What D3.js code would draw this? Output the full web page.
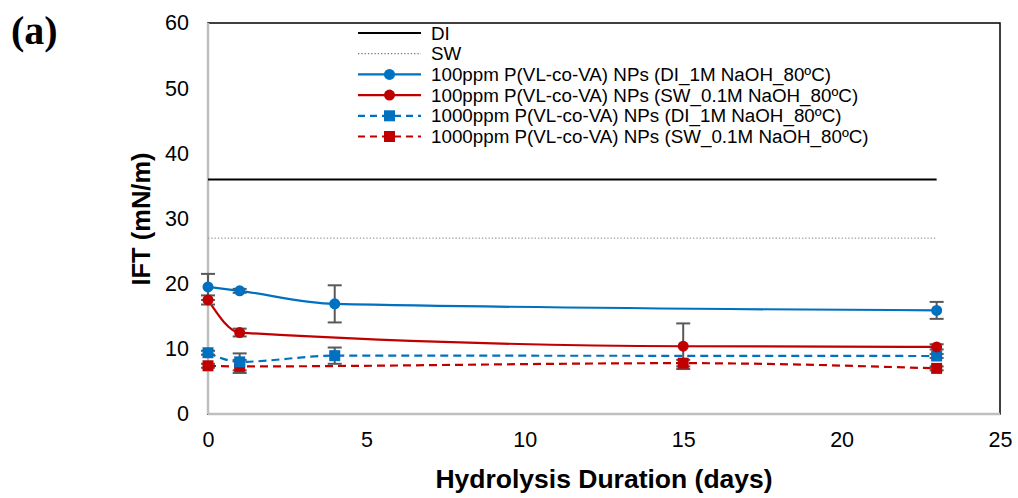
<!DOCTYPE html>
<html><head><meta charset="utf-8">
<script src="https://cdn.jsdelivr.net/npm/d3@7"></script>
<style>body{margin:0;background:#fff}svg{display:block}</style>
</head><body>
<svg id="c" width="1018" height="498"></svg>
<script>
const xTicks = [0,5,10,15,20,25];
const yTicks = [0,10,20,30,40,50,60];
const diLevel = 36;
const swLevel = 27;
const refX = [0, 23];
const blueCircX = [0,1,4,23];
const blueCircY = [19.5,18.9,16.9,15.9];
const blueCircE = [2.0,0.3,2.85,1.3];
const redCircX = [0,1,15,23];
const redCircY = [17.5,12.5,10.4,10.3];
const redCircE = [0.7,0.6,3.5,0.4];
const blueSqX = [0,1,4,23];
const blueSqY = [9.4,8.0,8.95,8.9];
const blueSqE = [0.3,1.3,1.25,0.3];
const redSqX = [0,1,15,23];
const redSqY = [7.4,7.3,7.8,7.0];
const redSqE = [0.3,1.0,0.5,0.3];
const legendLabels = ["DI","SW",
 "100ppm P(VL-co-VA) NPs (DI_1M NaOH_80ºC)",
 "100ppm P(VL-co-VA) NPs (SW_0.1M NaOH_80ºC)",
 "1000ppm P(VL-co-VA) NPs (DI_1M NaOH_80ºC)",
 "1000ppm P(VL-co-VA) NPs (SW_0.1M NaOH_80ºC)"];

const svg = d3.select("#c");
const L=208, R=1000, T=23, B=414;
const x = d3.scaleLinear().domain([0,25]).range([L,R]);
const y = d3.scaleLinear().domain([0,60]).range([B,T]);
const BLUE="#0070C0", RED="#C00000";
const FONT="Liberation Sans, Arial, sans-serif";
const DASH="8,5";

svg.append("rect").attr("x",L).attr("y",T).attr("width",R-L).attr("height",B-T)
  .attr("fill","none").attr("stroke","#000").attr("stroke-width",1.5);
svg.append("line").attr("x1",L).attr("x2",L).attr("y1",T).attr("y2",B).attr("stroke","#bfbfbf").attr("stroke-width",2.5);
svg.append("line").attr("x1",L).attr("x2",R).attr("y1",B).attr("y2",B).attr("stroke","#bfbfbf").attr("stroke-width",2.5);

const xa = svg.append("g").attr("transform",`translate(0,${B})`)
  .call(d3.axisBottom(x).tickValues(xTicks).tickSize(0).tickPadding(18).tickFormat(d3.format("d")));
const ya = svg.append("g").attr("transform",`translate(${L},0)`)
  .call(d3.axisLeft(y).tickValues(yTicks).tickSize(0).tickPadding(19).tickFormat(d3.format("d")));
[xa,ya].forEach(a=>{a.select(".domain").remove();
  a.selectAll("text").attr("font-family",FONT).attr("font-size",21.5).attr("fill","#000");});

const line = d3.line().x(d=>x(d[0])).y(d=>y(d[1]));
svg.append("path").attr("d",line(refX.map(v=>[v,diLevel]))).attr("stroke","#000").attr("stroke-width",2).attr("fill","none");
svg.append("path").attr("d",line(refX.map(v=>[v,swLevel]))).attr("stroke","#999").attr("stroke-width",1.3).attr("stroke-dasharray","1.3,2").attr("fill","none");

const smooth = d3.line().x(d=>x(d[0])).y(d=>y(d[1])).curve(d3.curveMonotoneX);

const series = [
 {xs:redSqX, ys:redSqY, es:redSqE, color:RED, dash:DASH, shape:"sq"},
 {xs:blueSqX, ys:blueSqY, es:blueSqE, color:BLUE, dash:DASH, shape:"sq"},
 {xs:redCircX, ys:redCircY, es:redCircE, color:RED, dash:null, shape:"c"},
 {xs:blueCircX, ys:blueCircY, es:blueCircE, color:BLUE, dash:null, shape:"c"},
];
series.forEach(s=>{
  const pts = s.xs.map((v,i)=>[v,s.ys[i]]);
  svg.append("path").attr("d",smooth(pts)).attr("fill","none").attr("stroke",s.color)
    .attr("stroke-width",2.2).attr("stroke-dasharray",s.dash);
});
series.forEach(s=>{
  s.xs.forEach((v,i)=>{
    const g = svg.append("g").attr("stroke","#595959").attr("stroke-width",2);
    const cx=x(v), y1=y(s.ys[i]+s.es[i]), y2=y(s.ys[i]-s.es[i]);
    g.append("line").attr("x1",cx).attr("x2",cx).attr("y1",y1).attr("y2",y2);
    g.append("line").attr("x1",cx-7).attr("x2",cx+7).attr("y1",y1).attr("y2",y1);
    g.append("line").attr("x1",cx-7).attr("x2",cx+7).attr("y1",y2).attr("y2",y2);
  });
});
function marker(g,shape,color,cx,cy){
  if(shape==="c") g.append("circle").attr("cx",cx).attr("cy",cy).attr("r",5.5).attr("fill",color);
  else g.append("rect").attr("x",cx-5.5).attr("y",cy-5.5).attr("width",11).attr("height",11).attr("fill",color);
}
series.forEach(s=>{
  s.xs.forEach((v,i)=>marker(svg,s.shape,s.color,x(v),y(s.ys[i])));
});

const lg = svg.append("g");
const legendStyles = [
 {color:"#000", dash:null, w:2, shape:null},
 {color:"#777", dash:"1.3,2", w:1.3, shape:null},
 {color:BLUE, dash:null, w:2.2, shape:"c"},
 {color:RED, dash:null, w:2.2, shape:"c"},
 {color:BLUE, dash:"7,5", w:2.2, shape:"sq"},
 {color:RED, dash:"7,5", w:2.2, shape:"sq"},
];
legendLabels.forEach((lab,i)=>{
  const yy = 33 + i*20.7;
  const st = legendStyles[i];
  lg.append("line").attr("x1",358).attr("x2",421).attr("y1",yy).attr("y2",yy)
    .attr("stroke",st.color).attr("stroke-width",st.w).attr("stroke-dasharray",st.dash);
  if(st.shape) marker(lg,st.shape,st.color,389.5,yy);
  lg.append("text").attr("x",431).attr("y",yy+6.5).text(lab)
    .attr("font-family",FONT).attr("font-size",18.8).attr("fill","#000");
});

svg.append("text").attr("x",604).attr("y",488).attr("text-anchor","middle")
  .attr("font-family",FONT).attr("font-weight","bold").attr("font-size",26.5)
  .text("Hydrolysis Duration (days)");
svg.append("text").attr("transform","translate(150,219) rotate(-90)").attr("text-anchor","middle")
  .attr("font-family",FONT).attr("font-weight","bold").attr("font-size",25.5)
  .text("IFT (mN/m)");
svg.append("text").attr("x",11).attr("y",44)
  .attr("font-family","Liberation Serif, Times New Roman, serif").attr("font-weight","bold").attr("font-size",40)
  .text("(a)");
</script>
</body></html>
